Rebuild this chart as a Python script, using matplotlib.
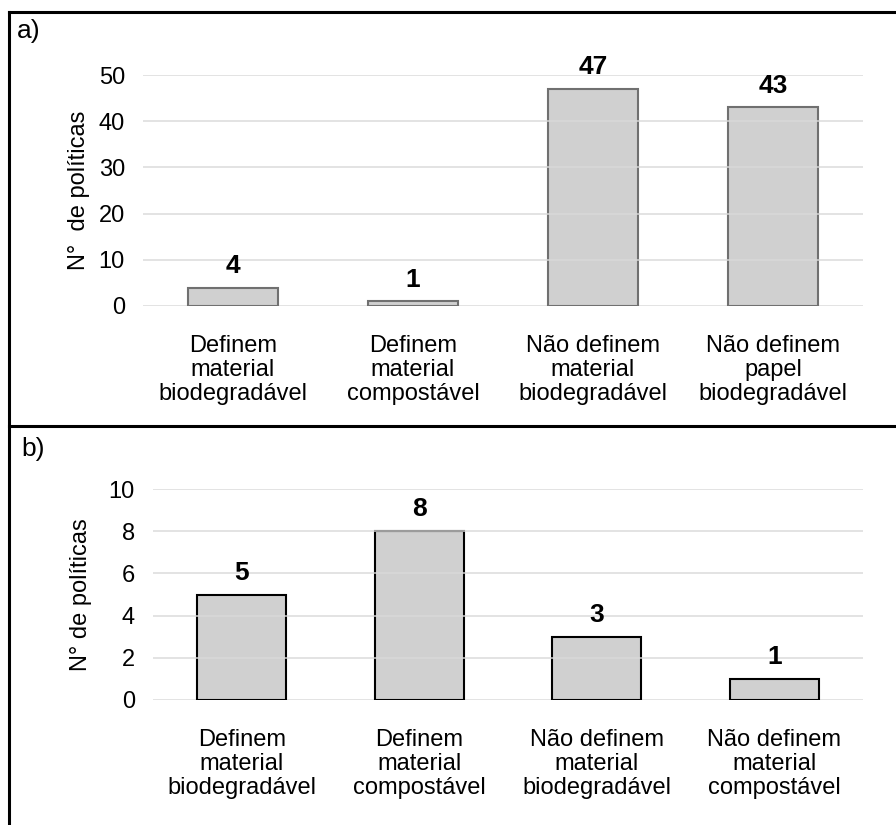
import matplotlib.pyplot as plt
from matplotlib.lines import Line2D

plt.rcParams['font.family'] = ['Liberation Sans', 'DejaVu Sans']

# Panel a
cats_a = ["Definem\nmaterial\nbiodegradável", "Definem\nmaterial\ncompostável",
          "Não definem\nmaterial\nbiodegradável", "Não definem\npapel\nbiodegradável"]
vals_a = [4, 1, 47, 43]
yticks_a = [0, 10, 20, 30, 40, 50]

# Panel b
cats_b = ["Definem\nmaterial\nbiodegradável", "Definem\nmaterial\ncompostável",
          "Não definem\nmaterial\nbiodegradável", "Não definem\nmaterial\ncompostável"]
vals_b = [5, 8, 3, 1]
yticks_b = [0, 2, 4, 6, 8, 10]

W, H = 896, 825
fig = plt.figure(figsize=(W / 100, H / 100), dpi=100)

def fx(px):
    return px / W

def fy(py):
    return 1 - py / H

FS = 17
bar_fill = '#d0d0d0'
grid_c = '#d9d9d9'


def panel(ax, cats, vals, yticks, edge, ylabel, label_pad_pts):
    x = range(len(cats))
    ax.bar(x, vals, width=0.5, color=bar_fill, edgecolor=edge, linewidth=1.5, zorder=2)
    for yt in yticks:
        ax.axhline(yt, color=grid_c, lw=1.3, zorder=3 if yt > 0 else 1, alpha=0.8)
    ax.set_xlim(-0.5, len(cats) - 0.5)
    ax.set_ylim(0, yticks[-1])
    ax.set_yticks(yticks)
    ax.set_yticklabels([str(t) for t in yticks], fontsize=FS)
    ax.set_xticks(list(x))
    ax.set_xticklabels(cats, fontsize=FS, linespacing=1.12)
    ax.tick_params(axis='y', length=0, pad=13)
    ax.tick_params(axis='x', length=0, pad=21)
    for s in ax.spines.values():
        s.set_visible(False)
    ax.set_ylabel(ylabel, fontsize=FS, labelpad=label_pad_pts)
    for xi, v in zip(x, vals):
        ax.annotate(str(v), (xi, v), xytext=(0, 7), textcoords='offset points',
                    ha='center', va='bottom', fontsize=19, fontweight='bold')


ax_a = fig.add_axes([fx(143), fy(306), fx(863) - fx(143), fy(75) - fy(306)])
panel(ax_a, cats_a, vals_a, yticks_a, '#707070', 'N°  de políticas', 6)

ax_b = fig.add_axes([fx(153), fy(700), fx(863) - fx(153), fy(489) - fy(700)])
panel(ax_b, cats_b, vals_b, yticks_b, '#000000', 'N° de políticas', 12)

# Panel frames
frame_kw = dict(color='black', lw=2.2, transform=fig.transFigure, figure=fig)
fig.lines.append(Line2D([fx(9), 1.0], [fy(12), fy(12)], **frame_kw))
fig.lines.append(Line2D([fx(9), fx(9)], [fy(12), 0.0], **frame_kw))
fig.lines.append(Line2D([fx(9), 1.0], [fy(426), fy(426)], **frame_kw))

fig.text(fx(17), fy(31), 'a)', fontsize=19, va='center', ha='left')
fig.text(fx(21), fy(449), 'b)', fontsize=19, va='center', ha='left')

fig.savefig('out.png', dpi=100)
